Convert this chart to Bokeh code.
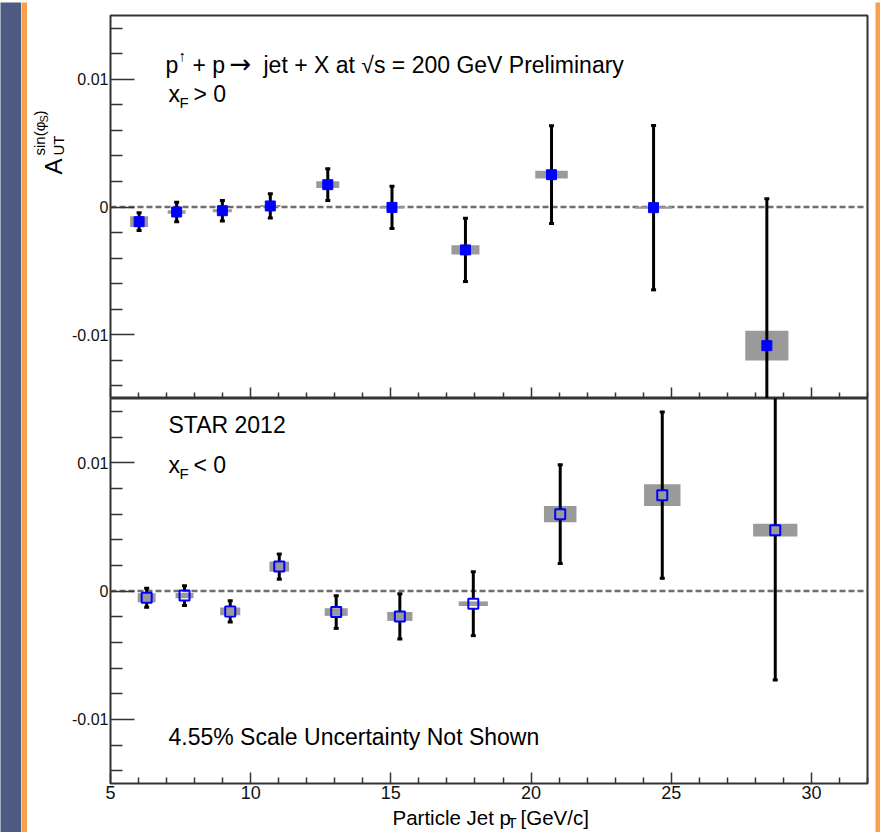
import numpy as np
from bokeh.plotting import figure
from bokeh.layouts import column, row
from bokeh.models import FixedTicker, Span, Label, CustomJSTickFormatter
from bokeh.embed import file_html
from bokeh.resources import INLINE

# ---------------- data ----------------
# x_F > 0 (top panel)
pt_fwd = [6.02, 7.36, 8.99, 10.70, 12.75, 15.04, 17.66, 20.73, 24.37, 28.41]
aut_fwd = [-0.00115, -0.00039, -0.00029, 0.00008, 0.00175, -0.00003, -0.00336, 0.00253, -0.00005, -0.01086]
stat_fwd = [0.00069, 0.00077, 0.00080, 0.00095, 0.00125, 0.00166, 0.00248, 0.00383, 0.00644, 0.01150]
sys_fwd = [0.00042, 0.00013, 0.00012, 0.00008, 0.00026, 0.00008, 0.00036, 0.00030, 0.00008, 0.00116]
ptsys_fwd = [0.32, 0.32, 0.34, 0.36, 0.41, 0.45, 0.50, 0.58, 0.65, 0.77]

# x_F < 0 (bottom panel)
pt_bwd = [6.29, 7.64, 9.27, 11.02, 13.05, 15.32, 17.94, 21.04, 24.68, 28.71]
aut_bwd = [-0.00052, -0.00036, -0.00159, 0.00190, -0.00164, -0.00198, -0.00099, 0.00599, 0.00747, 0.00474]
stat_bwd = [0.00074, 0.00077, 0.00083, 0.00098, 0.00127, 0.00176, 0.00249, 0.00385, 0.00648, 0.01167]
sys_bwd = [0.00035, 0.00020, 0.00030, 0.00039, 0.00030, 0.00035, 0.00018, 0.00064, 0.00085, 0.00050]
ptsys_bwd = [0.32, 0.32, 0.36, 0.35, 0.41, 0.45, 0.52, 0.58, 0.65, 0.79]

x_major = [5, 10, 15, 20, 25, 30]
x_minor = [6, 7, 8, 9, 11, 12, 13, 14, 16, 17, 18, 19, 21, 22, 23, 24, 26, 27, 28, 29, 31, 32]
y_major = [-0.01, 0.0, 0.01]
y_minor = [-0.014, -0.012, -0.008, -0.006, -0.004, -0.002, 0.002, 0.004, 0.006, 0.008, 0.012, 0.014]
y_labels = {-0.01: "-0.01", 0.0: "0", 0.01: "0.01"}

FONT = "Liberation Sans"
DARK = "#4f5b82"
ORANGE = "#f9a04e"
BLUE = "#0000ff"
GREY = "#9a9a9a"
AX = "#333333"
SHIFT = 0.37  # baseline correction (fraction of font size)
YSTRIP_W = 40
PANEL_LB = 83 - YSTRIP_W
P2_BOTTOM = 23
XSTRIP_H = 825 - 391 - 385 - P2_BOTTOM


def style_axes(p, show_xlabels):
    p.grid.visible = False
    p.outline_line_color = AX
    p.outline_line_width = 2
    xa = p.xaxis[0]
    xa.ticker = FixedTicker(ticks=x_major, minor_ticks=x_minor)
    xa.axis_line_color = None
    xa.axis_label_standoff = 0
    xa.major_tick_in = 11
    xa.major_tick_out = 0
    xa.minor_tick_in = 6
    xa.minor_tick_out = 0
    xa.major_tick_line_color = AX
    xa.minor_tick_line_color = AX
    xa.major_tick_line_width = 1.5
    xa.minor_tick_line_width = 1.5
    if show_xlabels:
        xa.major_label_text_font = FONT
        xa.major_label_text_font_size = "18px"
        xa.major_label_text_color = "#111111"
        xa.major_label_standoff = 2
    else:
        xa.formatter = CustomJSTickFormatter(code="return ''")
        xa.major_label_text_font_size = "1px"
        xa.major_label_standoff = 0
    ya = p.yaxis[0]
    ya.ticker = FixedTicker(ticks=y_major, minor_ticks=y_minor)
    ya.axis_line_color = None
    ya.axis_label_standoff = 0
    ya.major_tick_in = 24
    ya.major_tick_out = 0
    ya.minor_tick_in = 12
    ya.minor_tick_out = 0
    ya.major_tick_line_color = AX
    ya.minor_tick_line_color = AX
    ya.major_tick_line_width = 1.5
    ya.minor_tick_line_width = 1.5
    ya.major_label_overrides = y_labels
    ya.major_label_text_font = FONT
    ya.major_label_text_font_size = "16px"
    ya.major_label_text_color = "#111111"
    ya.major_label_standoff = 2


def draw_points(p, x, a, stat, sysy, sysx, filled, frame_h):
    x = np.array(x); a = np.array(a); stat = np.array(stat)
    sysy = np.array(sysy); sysx = np.array(sysx)
    p.add_layout(Span(location=0, dimension="width", line_color="#6e6e6e",
                      line_dash="6 3", line_width=2.5, level="underlay"))
    p.quad(left=x - sysx, right=x + sysx, bottom=a - sysy, top=a + sysy,
           fill_color=GREY, line_color=None)
    if filled:
        p.segment(x0=x, y0=a - stat, x1=x, y1=a + stat, line_color="black", line_width=3)
    else:
        gap = 5.0 * 0.03 / frame_h
        p.segment(x0=x, y0=a + gap, x1=x, y1=a + stat, line_color="black", line_width=3)
        p.segment(x0=x, y0=a - stat, x1=x, y1=a - gap, line_color="black", line_width=3)
    for yy in (a + stat, a - stat):
        p.rect(x=x, y=yy, width=5, height=3, width_units="screen", height_units="screen",
               fill_color="black", line_color=None)
    if filled:
        p.scatter(x=x, y=a, marker="square", size=10, fill_color=BLUE, line_color=BLUE, line_width=1)
    else:
        p.scatter(x=x, y=a, marker="square", size=10, fill_color=None, line_color=BLUE, line_width=2)


def lab(p, text, x, y, size, font=FONT):
    """horizontal text; (x, y) = start of the baseline, frame-relative px (y up)"""
    p.add_layout(Label(x=x, y=y + SHIFT * size, x_units="screen", y_units="screen", text=text,
                       text_font=font, text_font_size=f"{size}px", text_color="black",
                       text_align="left", text_baseline="alphabetic"))


def vlab(p, text, x, y, size, font=FONT):
    """text rotated 90 deg (reads upward); x = baseline position"""
    p.add_layout(Label(x=x - SHIFT * size, y=y, x_units="screen", y_units="screen", text=text,
                       text_font=font, text_font_size=f"{size}px", text_color="black",
                       text_align="left", text_baseline="alphabetic", angle=np.pi / 2))


def block(w, h, color):
    f = figure(width=w, height=h, toolbar_location=None, output_backend="svg",
               x_axis_location=None, y_axis_location=None, min_border=0,
               x_range=(0, 1), y_range=(0, 1),
               background_fill_color=color, border_fill_color=color)
    f.outline_line_color = None
    f.grid.visible = False
    return f


# ---------------- top panel ----------------
p1 = figure(frame_width=757, frame_height=383, x_range=(5, 32), y_range=(-0.015, 0.015),
            toolbar_location=None, output_backend="svg",
            min_border_left=PANEL_LB, min_border_right=8, min_border_top=8, min_border_bottom=0,
            background_fill_color="white", border_fill_color="white")
style_axes(p1, False)
draw_points(p1, pt_fwd, aut_fwd, stat_fwd, sys_fwd, ptsys_fwd, True, 383)
lab(p1, "p", 55, 325, 23)
lab(p1, "\u2191", 68, 337, 15)
lab(p1, "+ p", 82, 325, 23)
lab(p1, "\u2192", 119, 325, 26, font="DejaVu Sans")
lab(p1, "jet + X at \u221as = 200 GeV Preliminary", 153, 325, 23)
lab(p1, "x", 58, 296, 23)
lab(p1, "F", 69, 290, 15)
lab(p1, "> 0", 83, 296, 23)

# ---------------- bottom panel ----------------
p2 = figure(frame_width=757, frame_height=385, x_range=(5, 32), y_range=(-0.015, 0.015),
            toolbar_location=None, output_backend="svg",
            min_border_left=PANEL_LB, min_border_right=8, min_border_top=0,
            min_border_bottom=P2_BOTTOM,
            background_fill_color="white", border_fill_color="white")
style_axes(p2, True)
draw_points(p2, pt_bwd, aut_bwd, stat_bwd, sys_bwd, ptsys_bwd, False, 385)
lab(p2, "STAR 2012", 58, 350, 23)
lab(p2, "x", 58, 310, 23)
lab(p2, "F", 69, 304, 15)
lab(p2, "< 0", 83, 310, 23)
lab(p2, "4.55% Scale Uncertainty Not Shown", 58, 38, 23)

# ---------------- axis titles in their own strips ----------------
ystrip = block(YSTRIP_W, 825, "white")          # page x 27..67, y 7..832
vlab(ystrip, "A", 35, 658, 24)
vlab(ystrip, "UT", 36.5, 677, 15)
vlab(ystrip, "sin(\u03c6", 18, 677, 15)
vlab(ystrip, "S", 21, 710, 11)
vlab(ystrip, ")", 18, 717, 15)

xstrip = figure(frame_width=757, frame_height=XSTRIP_H, toolbar_location=None, output_backend="svg",
                x_axis_location=None, y_axis_location=None,
                min_border_left=PANEL_LB, min_border_right=8, min_border_top=0, min_border_bottom=0,
                x_range=(0, 1), y_range=(0, 1),
                background_fill_color="white", border_fill_color="white")
xstrip.outline_line_color = None
xstrip.grid.visible = False
lab(xstrip, "Particle Jet p", 282, 7, 20.5)
lab(xstrip, "T", 397, 4, 15)
lab(xstrip, "[GeV/c]", 410, 7, 20.5)

# ---------------- page decoration ----------------
white_area = row(ystrip, column(p1, p2, xstrip))
content = column(block(848, 5, ORANGE), white_area)
layout = column(block(880, 2, DARK),
                row(block(21, 830, DARK), block(6, 830, ORANGE), content, block(5, 830, ORANGE)))

open("out.html", "w").write(file_html(layout, INLINE, title="A_UT sin(phi_S)"))
